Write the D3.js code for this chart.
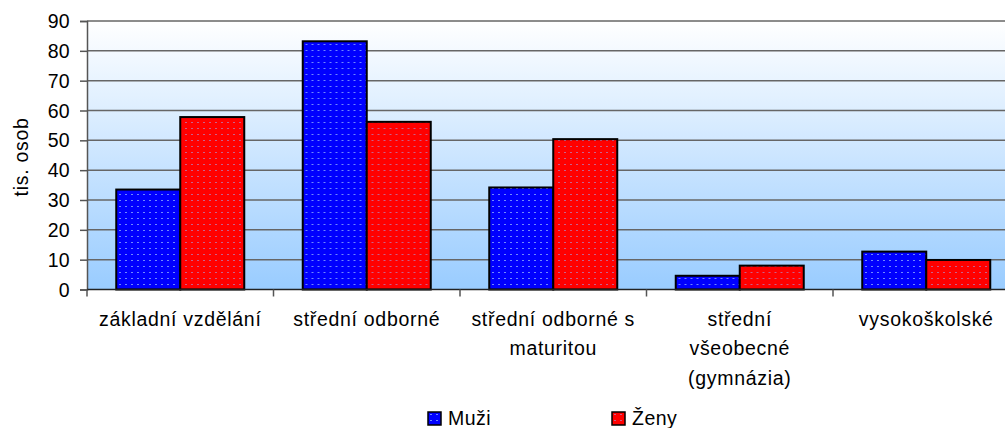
<!DOCTYPE html>
<html>
<head>
<meta charset="utf-8">
<script src="https://cdn.jsdelivr.net/npm/d3@7"></script>
<style>
  html, body { margin: 0; padding: 0; background: #fff; }
  svg { display: block; font-family: "Liberation Sans", Arial, sans-serif; }
</style>
</head>
<body>
<svg id="chart" width="1005" height="428"></svg>
<script>
// ---- data ----
const categories = [
  "základní vzdělání",
  "střední odborné",
  "střední odborné s\nmaturitou",
  "střední\nvšeobecné\n(gymnázia)",
  "vysokoškolské"
];
const seriesNames = ["Muži", "Ženy"];
const muzi = [33.5, 83.2, 34.2, 4.6, 12.7];
const zeny = [57.8, 56.2, 50.4, 8.0, 9.9];
const yTicks = [0, 10, 20, 30, 40, 50, 60, 70, 80, 90];
const yTitle = "tis. osob";

const seriesValues = [muzi, zeny];
const colors = ["#0000FF", "#FF0000"];
const dotColors = ["#7088ff", "#c8608a"];

// ---- layout ----
const svg = d3.select("#chart");
const mLeft = 87, mRight = 1019.5, mTop = 21, mBottom = 289.5;
const FS = 19.5;

const x0 = d3.scaleBand().domain(categories).range([mLeft, mRight]).padding(0);
const x1 = d3.scaleBand().domain(seriesNames).range([0, x0.bandwidth()])
  .paddingInner(0).paddingOuter(0.457);
const y = d3.scaleLinear().domain([0, 90]).range([mBottom, mTop]);

const defs = svg.append("defs");
const grad = defs.append("linearGradient").attr("id", "bg")
  .attr("x1", 0).attr("y1", 0).attr("x2", 0).attr("y2", 1);
grad.append("stop").attr("offset", "0%").attr("stop-color", "#ffffff");
grad.append("stop").attr("offset", "100%").attr("stop-color", "#99ccff");

seriesNames.forEach((s, i) => {
  const p = defs.append("pattern").attr("id", "pat" + i)
    .attr("patternUnits", "userSpaceOnUse").attr("width", 6).attr("height", 6);
  p.append("rect").attr("width", 6).attr("height", 6).attr("fill", colors[i]);
  p.append("rect").attr("x", 2).attr("y", 2).attr("width", 2).attr("height", 1)
    .attr("fill", dotColors[i]);
});

// plot background
svg.append("rect").attr("x", mLeft).attr("y", mTop)
  .attr("width", mRight - mLeft).attr("height", mBottom - mTop)
  .attr("fill", "url(#bg)");

// gridlines
svg.append("g").selectAll("line").data(yTicks.filter(d => d > 0)).join("line")
  .attr("x1", mLeft).attr("x2", mRight)
  .attr("y1", d => y(d)).attr("y2", d => y(d))
  .attr("stroke", "#666").attr("stroke-width", 1.5);

// bars
const groups = svg.append("g").selectAll("g").data(categories).join("g")
  .attr("transform", d => `translate(${x0(d)},0)`);
groups.selectAll("rect").data((d, ci) => seriesNames.map((s, si) => ({s, si, v: seriesValues[si][ci]})))
  .join("rect")
  .attr("x", d => x1(d.s))
  .attr("y", d => y(d.v))
  .attr("width", x1.bandwidth())
  .attr("height", d => y(0) - y(d.v))
  .attr("fill", d => `url(#pat${d.si})`)
  .attr("stroke", "#000").attr("stroke-width", 2);

// y axis
const yAxis = d3.axisLeft(y).tickValues(yTicks).tickSize(7).tickPadding(10);
const gy = svg.append("g").attr("transform", `translate(${mLeft},0)`).call(yAxis);
gy.select(".domain").attr("stroke", "#555").attr("stroke-width", 1.5);
gy.selectAll(".tick line").attr("stroke", "#555").attr("stroke-width", 1.5);
gy.selectAll(".tick text").attr("font-size", FS).attr("fill", "#000")
  .attr("font-family", "Liberation Sans, Arial, sans-serif")
  .attr("letter-spacing", "0.3px").attr("dy", "0.34em");

// x axis
const gx = svg.append("g").attr("transform", `translate(0,${mBottom})`);
gx.append("line").attr("x1", mLeft).attr("x2", mRight).attr("y1", 0).attr("y2", 0)
  .attr("stroke", "#222").attr("stroke-width", 1.5);
gx.selectAll("line.tk").data(categories.concat(["__end"])).join("line").attr("class", "tk")
  .attr("x1", (d, i) => i < categories.length ? x0(d) : mRight)
  .attr("x2", (d, i) => i < categories.length ? x0(d) : mRight)
  .attr("y1", 0).attr("y2", 7).attr("stroke", "#555").attr("stroke-width", 1.5);
const lbl = gx.selectAll("text").data(categories).join("text")
  .attr("text-anchor", "middle").attr("font-size", FS).attr("fill", "#000")
  .attr("letter-spacing", "0.7px");
lbl.each(function(d) {
  const t = d3.select(this);
  d.split("\n").forEach((line, i) => {
    t.append("tspan").attr("x", x0(d) + x0.bandwidth() / 2).attr("y", 36.5 + i * 29.3).text(line);
  });
});

// y title
svg.append("text").attr("transform", "translate(28,157) rotate(-90)")
  .attr("text-anchor", "middle").attr("font-size", FS).attr("letter-spacing", "0.7px")
  .text(yTitle);

// legend
const legendX = [428, 612];
const leg = svg.append("g").selectAll("g").data(seriesNames).join("g")
  .attr("transform", (d, i) => `translate(${legendX[i]},412)`);
leg.append("rect").attr("width", 13).attr("height", 13)
  .attr("fill", (d, i) => `url(#pat${i})`).attr("stroke", "#000").attr("stroke-width", 1.5);
leg.append("text").attr("x", 20).attr("y", 12.5).attr("font-size", FS)
  .attr("letter-spacing", "0.5px").text(d => d);
</script>
</body>
</html>
